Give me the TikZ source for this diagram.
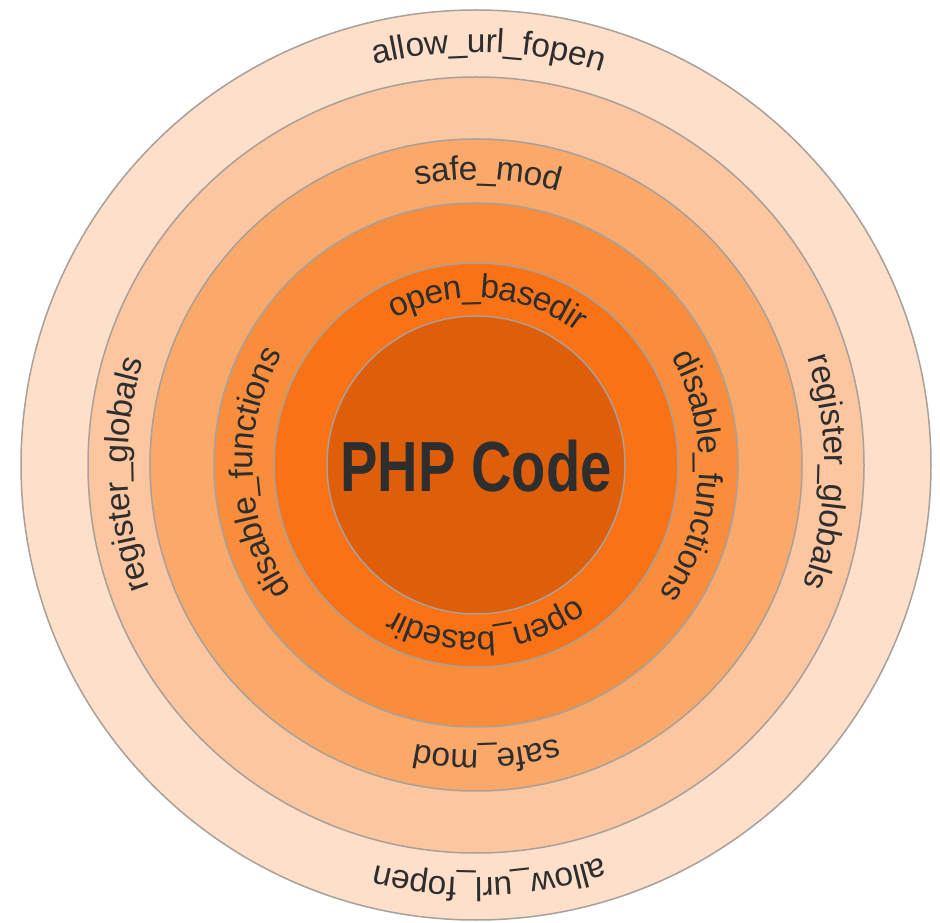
\documentclass[tikz,border=0pt]{standalone}
\usepackage{fontspec}
\setmainfont{Liberation Sans}
\usepackage{graphicx}
\usetikzlibrary{decorations.text}
\definecolor{c1}{HTML}{FDDFCA}
\definecolor{c2}{HTML}{FCC6A0}
\definecolor{c3}{HTML}{FAA96B}
\definecolor{c4}{HTML}{F98D3B}
\definecolor{c5}{HTML}{F97216}
\definecolor{c6}{HTML}{DE5E0A}
\definecolor{edge}{HTML}{A9A099}
\definecolor{txt}{HTML}{2E2E2E}
\newcommand\lblfont{\fontsize{33.5}{40}\selectfont}
\newcommand\ringlabel[3]{%
  \path[decorate, decoration={text along path, text align=center, raise=-8.7pt,
     text color=txt, text={|\lblfont|#3}}]
     ([shift={(#1+60:#2)}]C) arc[start angle=#1+60, end angle=#1-60, radius=#2];}
\tikzset{
  ring/.style={circle, draw=edge, line width=1.5pt, inner sep=0pt}
}
\begin{document}
\begin{tikzpicture}[x=1pt,y=1pt]
\fill[white] (0,0) rectangle (940,922);
\useasboundingbox (0,0) rectangle (940,922);
\coordinate (C) at (476,457);
\node[ring, fill=c1, minimum size=910pt] (r1) at (C) {};
\node[ring, fill=c2, minimum size=776pt] (r2) at (C) {};
\node[ring, fill=c3, minimum size=652pt] (r3) at (C) {};
\node[ring, fill=c4, minimum size=524pt] (r4) at (C) {};
\node[ring, fill=c5, minimum size=404pt] (r5) at (C) {};
\node[ring, fill=c6, minimum size=298pt] (r6) at (C) {};
% ring 1
\ringlabel{88.2}{421.5pt}{allow{\_}url{\_}fopen}
\ringlabel{271.9}{421.5pt}{allow{\_}url{\_}fopen}
% ring 2
\ringlabel{181.6}{357pt}{register{\_}globals}
\ringlabel{-1.1}{357pt}{register{\_}globals}
% ring 3
\ringlabel{87.7}{294pt}{safe{\_}mod}
\ringlabel{272.1}{294pt}{safe{\_}mod}
% ring 4
\ringlabel{182.2}{232pt}{disable{\_}functions}
\ringlabel{-3.0}{232pt}{disable{\_}functions}
% ring 5
\ringlabel{85.8}{175.5pt}{open{\_}basedir}
\ringlabel{273.6}{175.5pt}{open{\_}basedir}
% centre
\node[font=\bfseries\fontsize{71}{71}\selectfont, text=txt, anchor=base, inner sep=0pt] (php) at ([yshift=-27pt]C) {\scalebox{0.79}[1]{PHP Code}};
\end{tikzpicture}
\end{document}
